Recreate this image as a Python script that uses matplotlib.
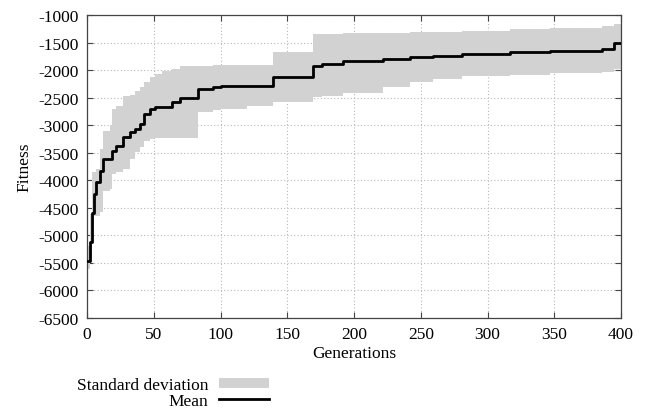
import numpy as np
import matplotlib
matplotlib.use("Agg")
import matplotlib.pyplot as plt
from matplotlib.patches import Patch
from matplotlib.lines import Line2D

plt.rcParams['font.family'] = ['Liberation Serif', 'DejaVu Serif']
plt.rcParams['axes.unicode_minus'] = False

# generations where the values change (step breakpoints)
gens = [0, 2, 4, 5, 7, 10, 12, 17, 19, 22, 27, 32, 36, 40, 43, 47, 51, 56, 64, 70,
        83, 94, 100, 120, 139, 169, 176, 192, 222, 242, 259, 281, 317, 347, 386, 395, 400]

mean = [-5470, -5120, -4600, -4250, -4030, -3830, -3610, -3610, -3470, -3380, -3210,
        -3120, -3070, -2980, -2800, -2710, -2670, -2670, -2580, -2510, -2340, -2310,
        -2290, -2290, -2130, -1925, -1890, -1835, -1800, -1760, -1745, -1710, -1670,
        -1655, -1620, -1510, -1510]

upper = [-5200, -4610, -3850, -3850, -3800, -3430, -3100, -3000, -2700, -2650, -2470,
         -2450, -2380, -2300, -2220, -2120, -2070, -2020, -1980, -1925, -1925, -1915,
         -1910, -1900, -1670, -1345, -1340, -1330, -1320, -1310, -1305, -1290, -1250,
         -1230, -1200, -1170, -1160]

lower = [-5610, -5400, -4900, -4650, -4650, -4580, -4190, -4160, -3890, -3850, -3790,
         -3610, -3490, -3400, -3290, -3250, -3240, -3230, -3230, -3230, -2760, -2730,
         -2700, -2650, -2580, -2490, -2470, -2420, -2310, -2220, -2160, -2100, -2090,
         -2060, -2035, -1980, -1980]

xticks = np.arange(0, 401, 50)
yticks = np.arange(-6500, -999, 500)

fig = plt.figure(figsize=(6.46, 4.14), dpi=100)
ax = fig.add_axes([0.1347, 0.2295, 0.8266, 0.7319])

ax.fill_between(gens, lower, upper, step='post', color='#d2d2d2', linewidth=0, zorder=2)
ax.plot(gens, mean, drawstyle='steps-post', color='black', lw=2, zorder=3)

ax.set_xlim(0, 400)
ax.set_ylim(-6500, -1000)
ax.set_xticks(xticks)
ax.set_yticks(yticks)
ax.grid(True, color='#b8b8b8', linestyle=(0, (1, 2)), linewidth=0.8, zorder=1)
ax.tick_params(direction='in', top=True, right=True, labelsize=12.5, color='#444444',
               length=4, width=0.8, pad=6)
for s in ax.spines.values():
    s.set_color('#444444')
    s.set_linewidth(0.9)

ax.set_xlabel('Generations', fontsize=12.5, labelpad=2)
ax.set_ylabel('Fitness', fontsize=12.5, labelpad=4)

handles = [Patch(facecolor='#d2d2d2', edgecolor='none'),
           Line2D([], [], color='black', lw=2)]
fig.legend(handles, ['Standard deviation', 'Mean'], loc='upper right',
           bbox_to_anchor=(0.417, 0.087), frameon=False, markerfirst=False,
           fontsize=12.5, handlelength=2.9, handleheight=0.5, labelspacing=0.0,
           handletextpad=0.6, borderpad=0, borderaxespad=0)

fig.savefig('out.png', dpi=100)
